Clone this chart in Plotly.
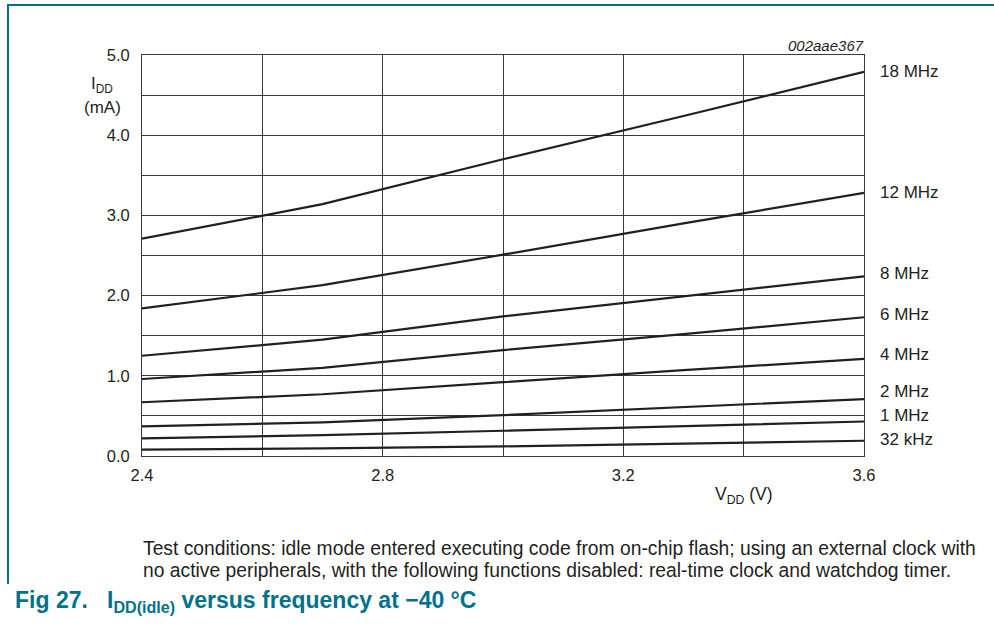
import plotly.graph_objects as go

vdd = [2.4, 2.7, 3.0, 3.3, 3.6]
series_names = ["18 MHz", "12 MHz", "8 MHz", "6 MHz", "4 MHz", "2 MHz", "1 MHz", "32 kHz"]
idd_18mhz = [2.71, 3.14, 3.70, 4.24, 4.79]
idd_12mhz = [1.84, 2.13, 2.51, 2.90, 3.28]
idd_8mhz = [1.25, 1.45, 1.74, 1.99, 2.24]
idd_6mhz = [0.96, 1.10, 1.32, 1.52, 1.73]
idd_4mhz = [0.67, 0.77, 0.92, 1.07, 1.21]
idd_2mhz = [0.37, 0.42, 0.51, 0.61, 0.71]
idd_1mhz = [0.22, 0.26, 0.315, 0.375, 0.43]
idd_32khz = [0.08, 0.095, 0.12, 0.155, 0.19]
series_values = [idd_18mhz, idd_12mhz, idd_8mhz, idd_6mhz, idd_4mhz, idd_2mhz, idd_1mhz, idd_32khz]
label_y = [4.79, 3.29, 2.27, 1.77, 1.27, 0.80, 0.51, 0.21]

x_tickvals = [2.4, 2.8, 3.2, 3.6]
x_ticktext = ["2.4", "2.8", "3.2", "3.6"]
x_gridvals = [2.6, 3.0, 3.4]
y_tickvals = [0.0, 1.0, 2.0, 3.0, 4.0, 5.0]
y_ticktext = ["0.0", "1.0", "2.0", "3.0", "4.0", "5.0"]
y_gridvals = [0.5, 1.5, 2.5, 3.5, 4.5]

W, H = 994, 628
L, R, T, B = 142, 130, 55, 172
PW, PH = W - L - R, H - T - B

def px(x):
    return (x - L) / PW

def py(y):
    return (H - B - y) / PH

FONT = "Liberation Sans, Arial, sans-serif"
TEAL = "#00728A"
INK = "#231f20"
GRID = "#3a3a3a"

fig = go.Figure()
for name, vals in zip(series_names, series_values):
    fig.add_trace(go.Scatter(x=vdd, y=vals, mode="lines", name=name,
                             line=dict(color=INK, width=2.2), showlegend=False,
                             hoverinfo="skip"))

annotations = []
for name, ly in zip(series_names, label_y):
    annotations.append(dict(x=3.6, y=ly, xref="x", yref="y", text=name, showarrow=False,
                            xanchor="left", xshift=14, font=dict(size=17, color=INK, family=FONT)))

annotations += [
    dict(x=px(866), y=py(45), xref="paper", yref="paper", text="<i>002aae367</i>", showarrow=False,
         xanchor="right", yanchor="middle", font=dict(size=15, color=INK, family=FONT)),
    dict(x=px(102), y=py(85), xref="paper", yref="paper", text="I<sub>DD</sub>", showarrow=False,
         xanchor="center", yanchor="middle", font=dict(size=17, color=INK, family=FONT)),
    dict(x=px(102), y=py(107), xref="paper", yref="paper", text="(mA)", showarrow=False,
         xanchor="center", yanchor="middle", font=dict(size=17, color=INK, family=FONT)),
    dict(x=px(744), y=py(495), xref="paper", yref="paper", text="V<sub>DD</sub> (V)", showarrow=False,
         xanchor="center", yanchor="middle", font=dict(size=17.5, color=INK, family=FONT)),
    dict(x=px(141), y=py(548), xref="paper", yref="paper",
         text="Test conditions: idle mode entered executing code from on-chip flash; using an external clock with",
         showarrow=False, xanchor="left", yanchor="middle", align="left",
         font=dict(size=19.3, color=INK, family=FONT)),
    dict(x=px(141), y=py(570), xref="paper", yref="paper",
         text="no active peripherals, with the following functions disabled: real-time clock and watchdog timer.",
         showarrow=False, xanchor="left", yanchor="middle", align="left",
         font=dict(size=19.3, color=INK, family=FONT)),
    dict(x=px(13), y=py(601), xref="paper", yref="paper",
         text="<b>Fig 27.   I<sub>DD(idle)</sub> versus frequency at \u221240 \u00b0C</b>",
         showarrow=False, xanchor="left", yanchor="middle",
         font=dict(size=23, color=TEAL, family=FONT)),
]

shapes = [
    dict(type="line", xref="paper", yref="paper", x0=px(7), x1=px(994), y0=py(5), y1=py(5),
         line=dict(color=TEAL, width=2)),
    dict(type="line", xref="paper", yref="paper", x0=px(8), x1=px(8), y0=py(4), y1=py(584),
         line=dict(color=TEAL, width=2)),
]

axis_common = dict(showgrid=True, gridcolor=GRID, gridwidth=1, zeroline=False,
                   showline=True, linecolor=GRID, linewidth=1, mirror=True, ticks="",
                   tickfont=dict(size=16.5, color=INK, family=FONT))

fig.update_layout(
    width=W, height=H, autosize=False,
    margin=dict(l=L, r=R, t=T, b=B, pad=0),
    paper_bgcolor="white", plot_bgcolor="white",
    annotations=annotations, shapes=shapes, hovermode=False,
    xaxis=dict(range=[2.4, 3.6], tickmode="array", tickvals=x_tickvals, ticktext=x_ticktext,
               ticklabelstandoff=4,
               minor=dict(tickmode="array", tickvals=x_gridvals, showgrid=True,
                          gridcolor=GRID, gridwidth=1, ticks=""),
               **axis_common),
    yaxis=dict(range=[0, 5], tickmode="array", tickvals=y_tickvals, ticktext=y_ticktext,
               ticklabelstandoff=8,
               minor=dict(tickmode="array", tickvals=y_gridvals, showgrid=True,
                          gridcolor=GRID, gridwidth=1, ticks=""),
               **axis_common),
)

fig.write_html("out.html", config={"displayModeBar": False},
               post_script="document.body.style.margin='0px';")
